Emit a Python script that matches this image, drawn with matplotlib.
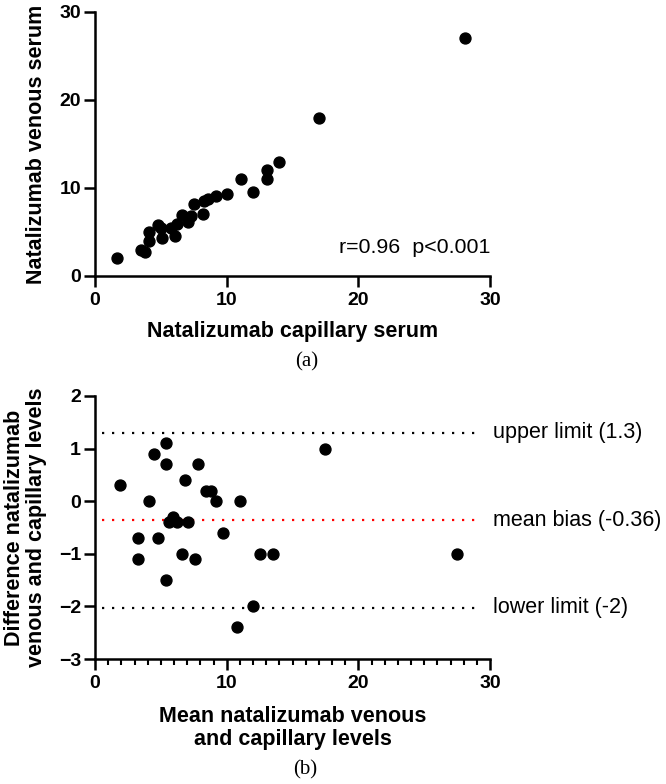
import matplotlib.pyplot as plt
from matplotlib.ticker import MultipleLocator

plt.rcParams['font.family'] = ['Liberation Sans', 'DejaVu Sans']

# (a) capillary vs venous natalizumab
cap = [1.7, 3.5, 3.8, 4.1, 4.1, 4.8, 5.05, 5.1, 5.8, 6.1, 6.2, 6.6, 7.1, 7.3,
       7.5, 8.2, 8.3, 8.6, 9.2, 10.0, 11.1, 12.0, 13.05, 13.05, 14.0, 17.0, 28.1]
ven = [2.0, 2.9, 2.7, 4.0, 5.0, 5.8, 5.5, 4.3, 5.4, 4.5, 5.9, 6.9, 6.1, 6.8,
       8.2, 7.0, 8.5, 8.8, 9.1, 9.3, 11.0, 9.5, 11.0, 12.0, 12.9, 17.95, 27.0]

# (b) Bland-Altman
mean_lv = [1.9, 3.3, 3.3, 4.1, 4.5, 4.8, 5.4, 5.4, 5.4, 5.6, 5.9, 6.2, 6.8, 6.6,
           7.1, 7.6, 7.8, 8.4, 8.8, 9.2, 9.7, 11.0, 10.8, 12.0, 12.5, 13.5, 17.5, 27.5]
diff_lv = [0.3, -0.7, -1.1, 0.0, 0.9, -0.7, 1.1, 0.7, -1.5, -0.4, -0.3, -0.4, 0.4, -1.0,
           -0.4, -1.1, 0.7, 0.2, 0.2, 0.0, -0.6, 0.0, -2.4, -2.0, -1.0, -1.0, 1.0, -1.0]
upper, bias, lower = 1.3, -0.36, -2.03
limit_labels = ['upper limit (1.3)', 'mean bias (-0.36)', 'lower limit (-2)']

fig = plt.figure(figsize=(6.66, 7.84), dpi=100)
ax1 = fig.add_axes([95 / 666, 1 - 276 / 784, 395 / 666, 264 / 784])
ax2 = fig.add_axes([95 / 666, 1 - 659 / 784, 395 / 666, 263 / 784])

for ax in (ax1, ax2):
    ax.spines['top'].set_visible(False)
    ax.spines['right'].set_visible(False)
    for s in ('left', 'bottom'):
        ax.spines[s].set_linewidth(1.8)
    ax.tick_params(width=1.8, length=8, labelsize=14)
    ax.tick_params(axis='x', pad=3.5)
    ax.tick_params(axis='y', pad=2)

ax1.scatter(cap, ven, s=62, color='black', zorder=3, clip_on=False)
ax1.set_xlim(0, 30)
ax1.set_ylim(0, 30)
ax1.set_xticks([0, 10, 20, 30])
ax1.set_yticks([0, 10, 20, 30])
ax1.set_xlabel('Natalizumab capillary serum', fontsize=15.5, fontweight='bold')
ax1.set_ylabel('Natalizumab venous serum', fontsize=15.5, fontweight='bold')
ax1.xaxis.set_label_coords(0.5, -0.172)
ax1.yaxis.set_label_coords(-0.121, 0.5)
ax1.text(30, 3.2, 'r=0.96  p<0.001', ha='right', va='center', fontsize=15.4)

ax2.scatter(mean_lv, diff_lv, s=62, color='black', zorder=3, clip_on=False)
ax2.set_xlim(0, 30)
ax2.set_ylim(-3, 2)
ax2.set_xticks([0, 10, 20, 30])
ax2.xaxis.set_minor_locator(MultipleLocator(1))
ax2.tick_params(which='minor', width=1.5, length=4.5)
ax2.set_yticks([-3, -2, -1, 0, 1, 2])
for val, col, txt in zip([upper, bias, lower], ['black', 'red', 'black'], limit_labels):
    ax2.plot([0.5, 29.3], [val, val], linestyle=(0, (1, 3.5)), color=col, linewidth=1.6)
    ax2.text(30.2, val, txt, ha='left', va='center', fontsize=15.5, clip_on=False)
ax2.set_xlabel('Mean natalizumab venous\nand capillary levels', fontsize=15.5, fontweight='bold',
               linespacing=1.1)
ax2.set_ylabel('Difference natalizumab\nvenous and capillary levels', fontsize=15.5, fontweight='bold',
               linespacing=1.1)
ax2.xaxis.set_label_coords(0.5, -0.18)
ax2.yaxis.set_label_coords(-0.121, 0.5)

for ax in (ax1, ax2):
    for lab in ax.get_xticklabels() + ax.get_yticklabels():
        lab.set_fontweight('bold')

fig.text(306.5 / 666, 1 - 362 / 784, '(a)', ha='center', va='center', fontsize=15, family='Liberation Serif')
fig.text(305 / 666, 1 - 770 / 784, '(b)', ha='center', va='center', fontsize=15, family='Liberation Serif')

fig.savefig('out.png', dpi=100)
